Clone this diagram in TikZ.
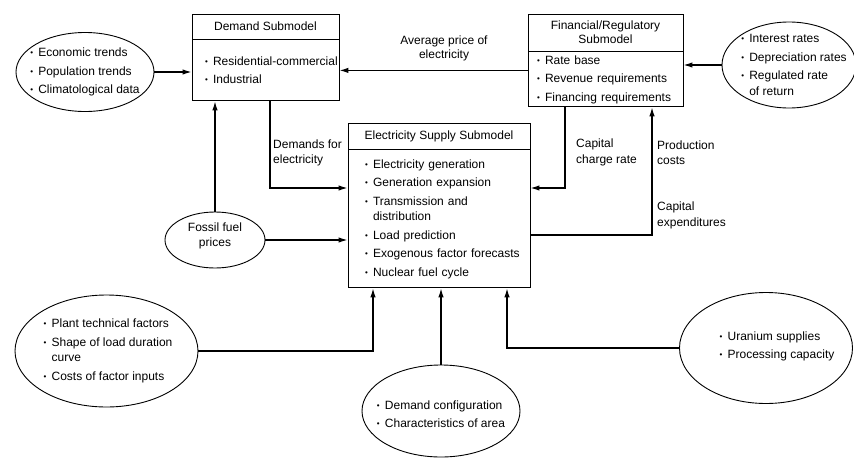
\documentclass[tikz,border=0pt]{standalone}
\usepackage{fontspec}
\setmainfont{Liberation Sans}
\usetikzlibrary{shapes.geometric,arrows.meta}

\hyphenpenalty=10000
\exhyphenpenalty=10000
\newcommand\bul{\makebox[8pt][l]{\raisebox{1pt}{\fontsize{8}{8}\selectfont\textbullet}}}
\newcommand\hang{\hspace*{8pt}}

\begin{document}
\begin{tikzpicture}[x=1pt,y=-1pt,
    font=\fontsize{12}{15.5}\selectfont,
    head/.style={draw, line width=0.9pt, inner sep=0pt, align=center},
    body/.style={draw, line width=0.9pt, inner sep=0pt, align=left, anchor=north},
    oval/.style={draw, ellipse, line width=0.9pt, inner sep=0pt},
    list/.style={align=left, inner sep=0pt},
    lbl/.style={anchor=west, align=left, inner sep=0pt},
    arr/.style={line width=1.3pt, -{Latex[length=9pt,width=5.5pt]}}]
    \useasboundingbox (0,0) rectangle (854,458);
    % Submodelle
    \node[head, minimum width=147, minimum height=25] (demh) at (265.5,26.5) {Demand Submodel};
    \node[body, minimum width=147, minimum height=61, text width=121] (demb) at (demh.south)
        {\bul\mbox{Residential-commercial}\\[3pt]\bul Industrial};
    \node[head, minimum width=155, minimum height=37] (finh) at (605.5,32.5)
        {Financial/Regulatory\\[-1.5pt]Submodel};
    \node[body, minimum width=155, minimum height=55, text width=137] (finb) at (finh.south)
        {\bul Rate base\\[3pt]\bul Revenue requirements\\[3pt]\bul Financing requirements};
    \node[head, minimum width=182, minimum height=26] (suph) at (439,136) {Electricity Supply Submodel};
    \node[body, minimum width=182, minimum height=138, text width=148] (supb) at (suph.south)
        {\bul Electricity generation\\[3pt]
         \bul Generation expansion\\[3pt]
         \bul Transmission and\\
         \hang distribution\\[3pt]
         \bul Load prediction\\[3pt]
         \bul \mbox{Exogenous factor forecasts}\\[3pt]
         \bul Nuclear fuel cycle};
    % Eingangsgroessen
    \node[oval, minimum width=138, minimum height=79] (econ) at (85,72) {};
    \node[list] (econtxt) at (econ) {\bul Economic trends\\[3pt]\bul Population trends\\[3pt]\bul Climatological data};
    \node[oval, minimum width=134, minimum height=86] (intr) at (789,65) {};
    \node[list] (intrtxt) at ([xshift=5pt]intr.center)
        {\bul Interest rates\\[3pt]\bul Depreciation rates\\[3pt]\bul Regulated rate\\\hang of return};
    \node[oval, minimum width=100, minimum height=56] (fuel) at (215,240) {};
    \node[list, align=center] (fueltxt) at ([yshift=4pt]fuel.center) {Fossil fuel\\prices};
    \node[oval, minimum width=183, minimum height=112] (plant) at (106.5,351) {};
    \node[list] (planttxt) at ([xshift=1.5pt]plant.center)
        {\bul Plant technical factors\\[3pt]\bul Shape of load duration\\\hang curve\\[3pt]\bul Costs of factor inputs};
    \node[oval, minimum width=158, minimum height=92] (area) at (441,411) {};
    \node[list] (areatxt) at ([yshift=-3pt]area.center)
        {\bul Demand configuration\\[3pt]\bul Characteristics of area};
    \node[oval, minimum width=173, minimum height=111] (uran) at (766,348) {};
    \node[list] (urantxt) at ([xshift=11pt,yshift=1.5pt]uran.center)
        {\bul Uranium supplies\\[3pt]\bul Processing capacity};
    % Knickpunkte
    \coordinate (dembend) at (270,188);
    \coordinate (capbend) at (565,188);
    \coordinate (costbend) at (652,235);
    \coordinate (plantbend) at (373,351);
    \coordinate (uranbend) at (507,348);
    % Verbindungen
    \draw[arr] (econ.east) -- (econ.east -| demb.west);
    \draw[arr] (finb.west |- demb.center) -- (demb.east);
    \draw[arr] (intr.west) -- (intr.west -| finb.east);
    \draw[arr] (fuel.north) -- (fuel.north |- demb.south);
    \draw[arr] (fuel.east) -- (fuel.east -| supb.west);
    \draw[arr] (demb.south -| dembend) -- (dembend) -- (dembend -| supb.west);
    \draw[arr] (finb.south -| capbend) -- (capbend) -- (capbend -| supb.east);
    \draw[arr] (supb.east |- costbend) -- (costbend) -- (costbend |- finb.south);
    \draw[arr] (plant.east) -| (plantbend |- supb.south);
    \draw[arr] (area.north) -- (area.north |- supb.south);
    \draw[arr] (uran.west) -| (uranbend |- supb.south);
    % Beschriftung
    \node[align=center, inner sep=0pt] (pricelbl) at (444,48.5) {Average price of\\[-2pt]electricity};
    \node[lbl] (demlbl) at (273,153) {Demands for\\electricity};
    \node[lbl] (caplbl) at (576,152.5) {Capital\\charge rate};
    \node[lbl] (prodlbl) at (657,152.5) {Production\\costs};
    \node[lbl] (expendlbl) at (657,215.5) {Capital\\expenditures};
\end{tikzpicture}
\end{document}
